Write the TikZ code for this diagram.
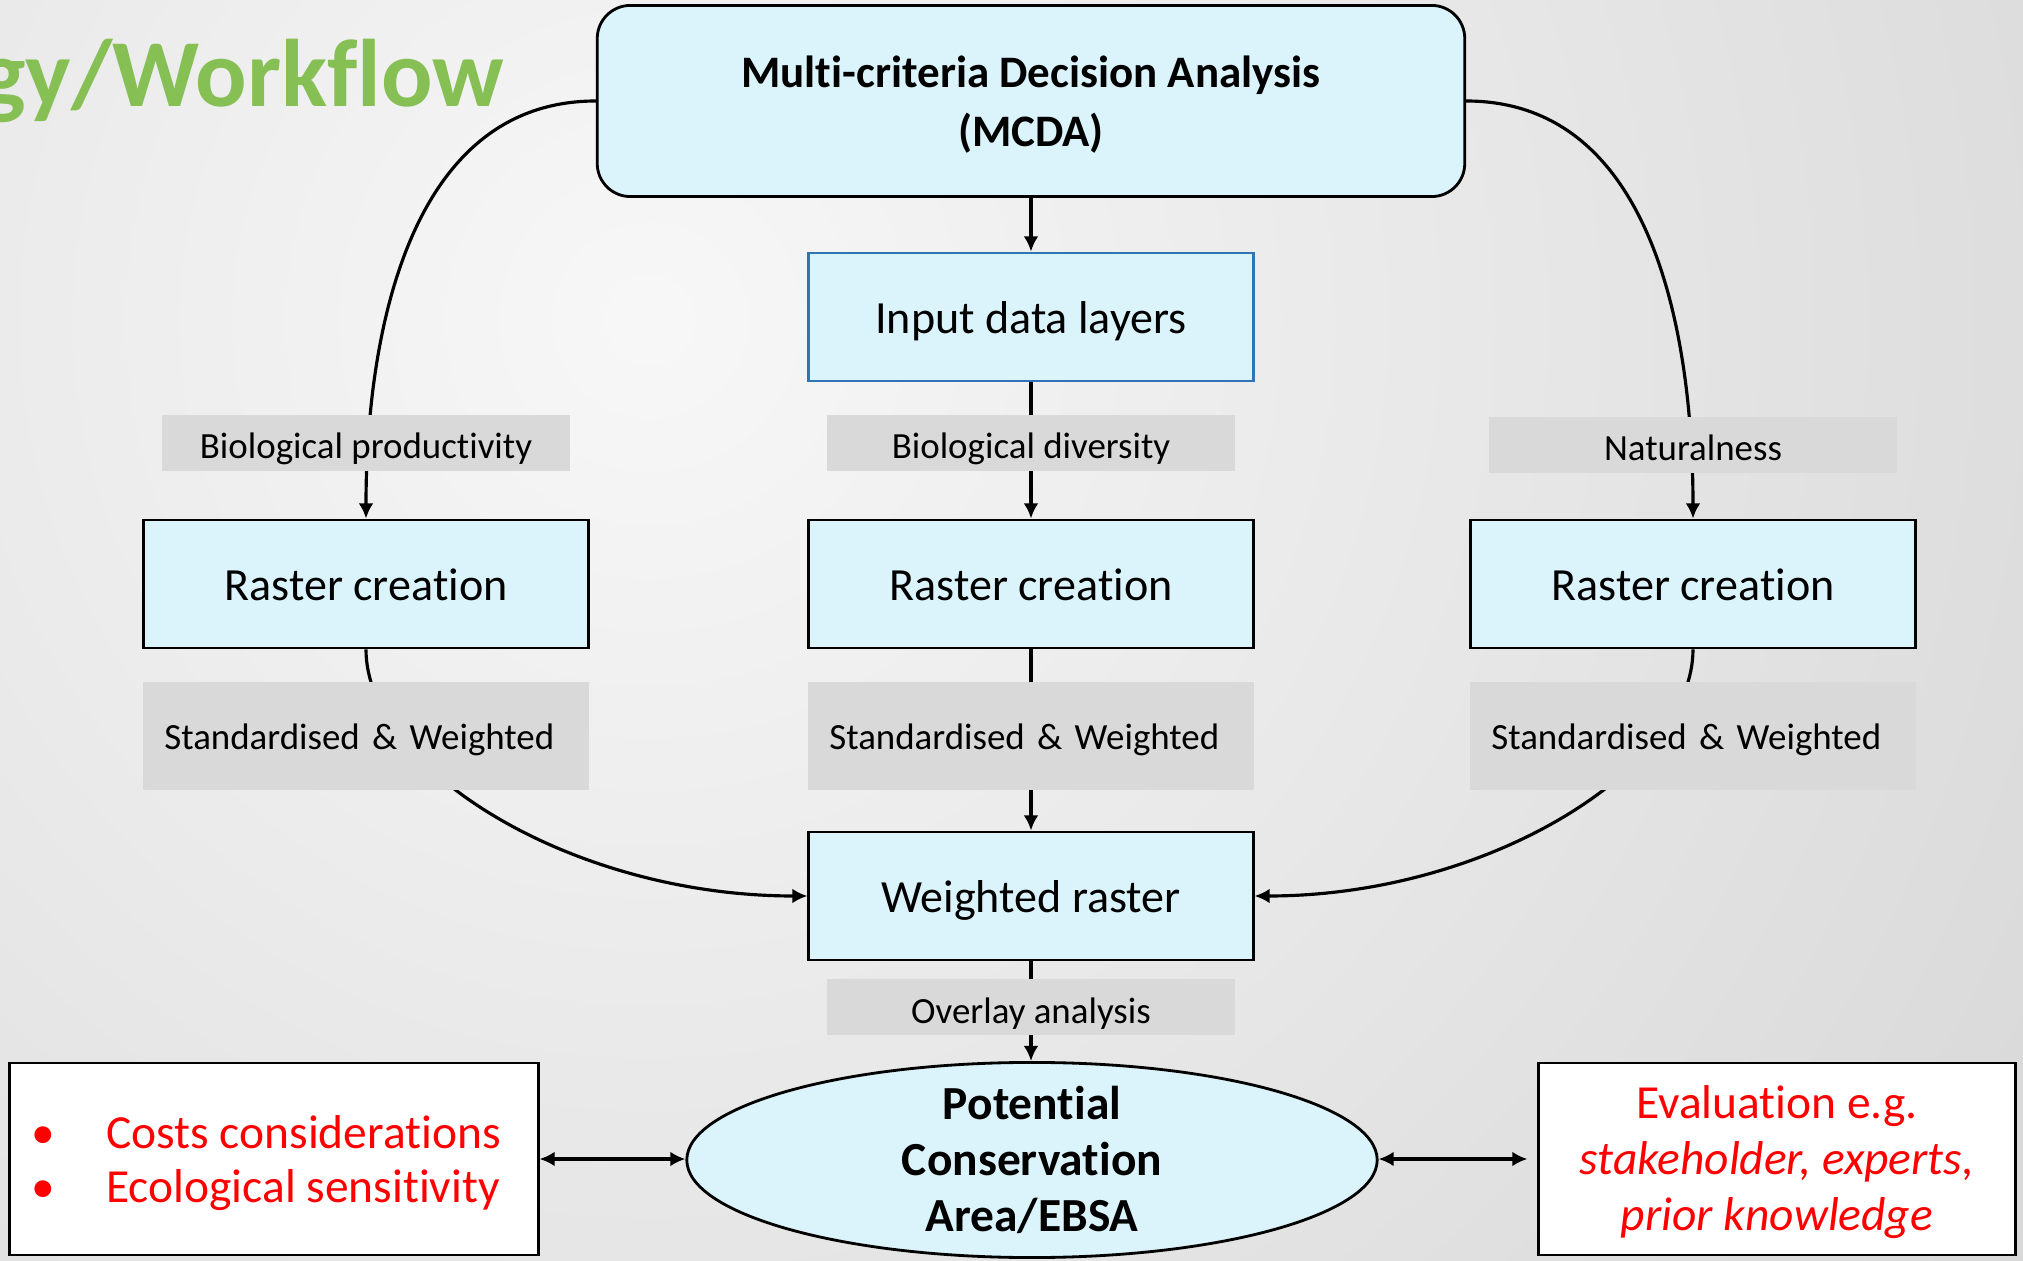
\documentclass[tikz,border=0pt]{standalone}
\usepackage{fontspec}
\setmainfont{Carlito}[Ligatures=NoCommon]
\usetikzlibrary{shapes, arrows.meta, calc, positioning}
\definecolor{boxcyan}{RGB}{219,243,250}
\definecolor{labelgrey}{RGB}{217,217,217}
\definecolor{inputblue}{RGB}{46,117,182}
\definecolor{notered}{RGB}{255,0,0}
\definecolor{titlegreen}{RGB}{134,191,83}
\tikzset{rasterbox/.style={draw, line width=0.8pt, fill=boxcyan, minimum width=4.44cm, minimum height=1.28cm, inner sep=0pt, text height=11.6pt, text depth=2pt, font=\fontsize{13.1}{15.7}\selectfont}}
\tikzset{greylabel/.style={fill=labelgrey, minimum width=4.08cm, minimum height=0.56cm, inner sep=0pt, text height=11pt, text depth=1.8pt, font=\fontsize{10.5}{12.6}\selectfont}}
\tikzset{weightlabel/.style={fill=labelgrey, text width=4.03cm, align=left, minimum height=1.08cm, inner xsep=0.21cm, inner ysep=0pt, text height=9.5pt, text depth=2pt, font=\fontsize{10.5}{12.6}\selectfont}}
\tikzset{flowarrow/.style={-{Latex[length=4.3pt, width=4.2pt]}, line width=0.9pt}}
\tikzset{twoway/.style={{Latex[length=4.3pt, width=4.2pt]}-{Latex[length=4.3pt, width=4.2pt]}, line width=0.9pt}}
\tikzset{notebox/.style={draw, line width=0.8pt, fill=white, text=notered, minimum height=1.92cm, font=\fontsize{13.5}{15.9}\selectfont}}

\begin{document}
\begin{tikzpicture}[x=0.01cm, y=-0.01cm]
\useasboundingbox (0, 0) rectangle (2023, 1261);
\begin{scope}
    \clip (0, 0) rectangle (2023, 1261);
    \shade[inner color=black!3, outer color=black!17] (650, 320) circle (19cm);
\end{scope}

\node[font=\fontsize{27.3}{32}\selectfont\bfseries, text=titlegreen, anchor=base east, inner sep=0pt] (title) at (505, 107) {gy/Workflow};

\node[rasterbox, rounded corners=0.33cm, minimum width=8.67cm, minimum height=1.91cm, align=center, text height=, text depth=0pt, font=\fontsize{12.8}{16.8}\selectfont\bfseries] (mcda) at (1031, 101) {Multi-criteria Decision Analysis\\(MCDA)};
\node[rasterbox, draw=inputblue] (input) at (1031, 317) {Input data layers};
\node[rasterbox] (rasL) at (366, 584) {Raster creation};
\node[rasterbox] (rasC) at (1031, 584) {Raster creation};
\node[rasterbox] (rasR) at (1693, 584) {Raster creation};
\node[rasterbox] (wr) at (1031, 896) {Weighted raster};
\node[ellipse, draw, line width=0.8pt, fill=boxcyan, minimum width=6.9cm, minimum height=1.95cm, inner sep=0pt,
      label={[align=center, font=\fontsize{13.5}{15.9}\selectfont\bfseries]center:{Potential\\Conservation\\Area/EBSA}}] (pca) at (1032, 1160) {};
\node[notebox, minimum width=5.28cm, align=left, text depth=0pt, font=\fontsize{13.5}{15.1}\selectfont] (costs) at (274, 1159) {\makebox[0.75cm][l]{\textbullet}Costs considerations\hspace*{0.16cm}\\\makebox[0.75cm][l]{\textbullet}Ecological sensitivity\hspace*{0.16cm}};
\node[notebox, minimum width=4.76cm, align=center, text depth=0.4pt] (eval) at (1777, 1159) {Evaluation e.g.\\\textit{stakeholder, experts,}\\\textit{prior knowledge}};

\draw[flowarrow] (mcda) -- (input);
\draw[flowarrow] (input) -- (rasC);
\draw[flowarrow] (rasC) -- (wr);
\draw[flowarrow] (wr.south) -- (wr.south |- pca.north);
\draw[flowarrow] (mcda.west) to[out=180, in=90] (rasL.north);
\draw[flowarrow] (mcda.east) to[out=0, in=90] (rasR.north);
\draw[flowarrow] (rasL.south) to[out=-90, in=180, out looseness=0.6, in looseness=1.2] (wr.west);
\draw[flowarrow] (rasR.south) to[out=-90, in=0, out looseness=0.6, in looseness=1.2] (wr.east);
\draw[twoway] (costs.east) -- (costs.east -| pca.west);
\draw[twoway, shorten >=0.1cm] (pca.east |- eval.west) -- (eval.west);

\node[greylabel, above = 0.47cm of rasL] (bioprod) {Biological productivity};
\node[greylabel, above = 0.47cm of rasC] (biodiv) {Biological diversity};
\node[greylabel, above = 0.45cm of rasR] (natural) {Naturalness};
\node[weightlabel, below = 0.32cm of rasL] (stdL) {Standardised \& Weighted};
\node[weightlabel, below = 0.32cm of rasC] (stdC) {Standardised \& Weighted};
\node[weightlabel, below = 0.32cm of rasR] (stdR) {Standardised \& Weighted};
\node[greylabel, below = 0.17cm of wr] (overlay) {Overlay analysis};
\end{tikzpicture}
\end{document}
